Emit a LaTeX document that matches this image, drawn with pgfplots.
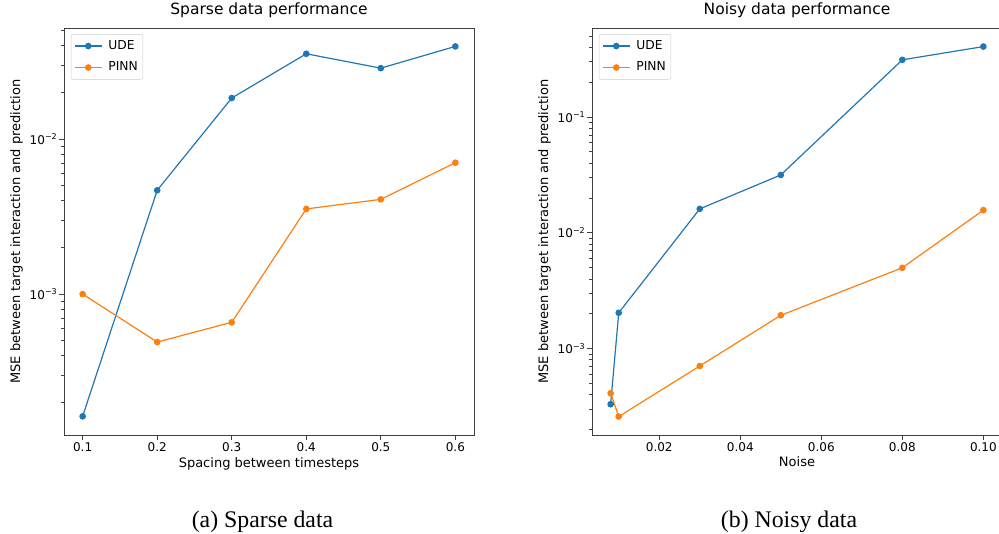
\documentclass[border=0pt]{standalone}
\usepackage{fontspec}
\setmainfont{DejaVu Sans}
\newfontfamily\capfont{Liberation Serif}
\usepackage{pgfplots}
\pgfplotsset{compat=1.18}
\definecolor{tabblue}{HTML}{1F77B4}
\definecolor{taborange}{HTML}{FF7F0E}
\pgfplotsset{
  mplstyle/.style={
    scale only axis,
    width=410pt, height=407pt,
    anchor=south west,
    axis line style={black!75, line width=0.9pt},
    tick pos=left,
    tick align=outside,
    major tick length=5pt,
    minor tick length=3pt,
    every tick/.style={black!75, line width=0.8pt},
    tick label style={font=\fontsize{12}{14}\selectfont},
    xticklabel style={inner sep=2pt},
    yticklabel style={inner sep=1.5pt},
    label style={font=\fontsize{13}{15}\selectfont},
    title style={font=\fontsize{15.5}{18}\selectfont, at={(axis description cs:0.5,1)}, anchor=base, yshift=7pt},
    xlabel style={at={(axis description cs:0.5,0)}, anchor=base, yshift=-32pt},
    ylabel style={at={(axis description cs:-0.1073,0.5)}, anchor=base},
    legend style={at={(axis description cs:0.017,0.985)}, anchor=north west,
      draw=black!20, rounded corners=2pt, fill=white,
      font=\fontsize{12.3}{14}\selectfont,
      nodes={font=\fontsize{12.3}{14}\selectfont, inner sep=2pt, text height=9pt, text depth=2.5pt},
      row sep=6pt, column sep=4pt, inner xsep=3pt, inner ysep=4pt},
    legend cell align=left,
    legend image code/.code={\draw[mark repeat=2,mark phase=2] plot coordinates {(0pt,0pt) (13.5pt,0pt) (27pt,0pt)};},
    every axis plot/.append style={line width=1.2pt, mark=*, mark size=2.7pt},
  }
}
\begin{document}
\begin{tikzpicture}
\begin{semilogyaxis}[mplstyle,
  at={(64pt,99pt)},
  xmin=0.075, xmax=0.625,
  ymin=1.236e-4, ymax=0.0519,
  xtick={0.1,0.2,0.3,0.4,0.5,0.6},
  xticklabels={0.1,0.2,0.3,0.4,0.5,0.6},
  ytick={1e-3,1e-2},
  yticklabels={10\textsuperscript{−3},10\textsuperscript{−2}},
  minor ytick={2e-4,3e-4,4e-4,5e-4,6e-4,7e-4,8e-4,9e-4,2e-3,3e-3,4e-3,5e-3,6e-3,7e-3,8e-3,9e-3,2e-2,3e-2,4e-2,5e-2},
  title={Sparse data performance},
  xlabel={Spacing between timesteps},
  ylabel={MSE between target interaction and prediction},
]
\addplot[tabblue, mark options={fill=tabblue}] coordinates {
  (0.1,1.63e-4) (0.2,4.67e-3) (0.3,0.01836) (0.4,0.0354) (0.5,0.0286) (0.6,0.0395)};
\addlegendentry{UDE}
\addplot[taborange, mark options={fill=taborange}] coordinates {
  (0.1,1.0e-3) (0.2,4.91e-4) (0.3,6.58e-4) (0.4,3.54e-3) (0.5,4.08e-3) (0.6,7.03e-3)};
\addlegendentry{PINN}
\end{semilogyaxis}
\begin{semilogyaxis}[mplstyle,
  at={(592pt,99pt)},
  xmin=0.0034, xmax=0.1046,
  ymin=1.795e-4, ymax=0.5875,
  xtick={0.02,0.04,0.06,0.08,0.10},
  xticklabels={0.02,0.04,0.06,0.08,0.10},
  ytick={1e-3,1e-2,1e-1},
  yticklabels={10\textsuperscript{−3},10\textsuperscript{−2},10\textsuperscript{−1}},
  minor ytick={2e-4,3e-4,4e-4,5e-4,6e-4,7e-4,8e-4,9e-4,2e-3,3e-3,4e-3,5e-3,6e-3,7e-3,8e-3,9e-3,2e-2,3e-2,4e-2,5e-2,6e-2,7e-2,8e-2,9e-2,2e-1,3e-1,4e-1,5e-1},
  title={Noisy data performance},
  xlabel={Noise},
  ylabel={MSE between target interaction and prediction},
]
\addplot[tabblue, mark options={fill=tabblue}] coordinates {
  (0.008,3.31e-4) (0.01,2.04e-3) (0.03,0.0161) (0.05,0.0316) (0.08,0.312) (0.10,0.406)};
\addlegendentry{UDE}
\addplot[taborange, mark options={fill=taborange}] coordinates {
  (0.008,4.12e-4) (0.01,2.59e-4) (0.03,7.08e-4) (0.05,1.94e-3) (0.08,4.99e-3) (0.10,0.0157)};
\addlegendentry{PINN}
\end{semilogyaxis}
\node[anchor=base, font=\capfont\fontsize{23.8}{28}\selectfont, inner sep=0pt] at (262.5pt,6pt) {(a) Sparse data};
\node[anchor=base, font=\capfont\fontsize{23.8}{28}\selectfont, inner sep=0pt] at (789pt,6pt) {(b) Noisy data};
\pgfresetboundingbox
\path[use as bounding box] (0,0) rectangle (999pt,534pt);
\end{tikzpicture}
\end{document}
